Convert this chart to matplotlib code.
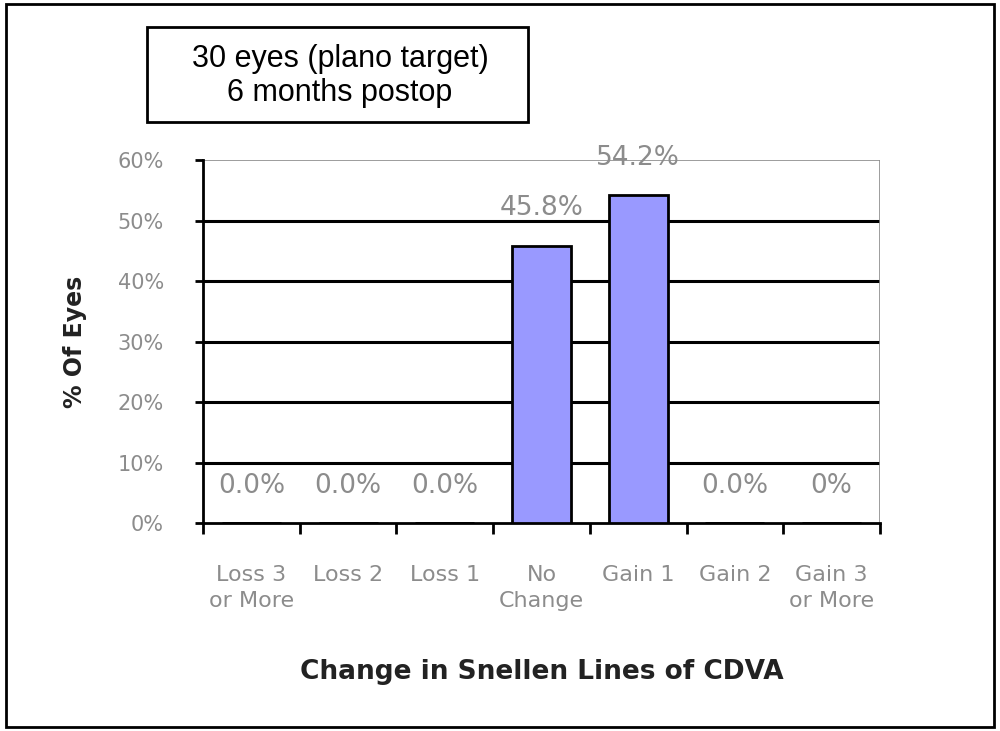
import matplotlib.pyplot as plt
from matplotlib.patches import Rectangle

# chart data
categories = ["Loss 3\nor More", "Loss 2", "Loss 1", "No\nChange",
              "Gain 1", "Gain 2", "Gain 3\nor More"]
values = [0.0, 0.0, 0.0, 45.8, 54.2, 0.0, 0.0]
value_labels = ["0.0%", "0.0%", "0.0%", "45.8%", "54.2%", "0.0%", "0%"]
y_ticks = [0, 10, 20, 30, 40, 50, 60]

grey = "#8c8c8c"
bar_color = "#9999ff"

fig = plt.figure(figsize=(10, 7.31), dpi=100)
fig.patch.set_facecolor("white")

# outer frame
fig.patches.append(Rectangle((0.006, 0.006), 0.988, 0.988, transform=fig.transFigure,
                             fill=False, edgecolor="black", linewidth=2))

ax = fig.add_axes([0.203, 0.2845, 0.677, 0.4965])
x = list(range(len(categories)))
ax.bar(x, values, width=0.61, color=bar_color, edgecolor="black", linewidth=2, zorder=3)

ax.set_xlim(-0.5, len(categories) - 0.5)
ax.set_ylim(0, 60)

# gridlines
for t in y_ticks[1:-1]:
    ax.axhline(t, color="black", linewidth=2.2, zorder=1)
ax.axhline(60, color=grey, linewidth=1.2, zorder=1)

for side in ["top", "right"]:
    ax.spines[side].set_visible(False)
ax.axvline(len(categories) - 0.5, color=grey, linewidth=1.2, zorder=1)
ax.spines["left"].set_linewidth(2)
ax.spines["bottom"].set_linewidth(2)

ax.set_yticks(y_ticks)
ax.set_yticklabels([f"{t}%" for t in y_ticks], color=grey, fontsize=15)
ax.tick_params(axis="y", length=6, width=2, pad=22)

ax.set_xticks(x)
ax.set_xticklabels(categories, color=grey, fontsize=16, linespacing=1.4)
ax.set_xticks([i - 0.5 for i in range(len(categories) + 1)], minor=True)
ax.tick_params(axis="x", which="major", length=0, pad=30)
ax.tick_params(axis="x", which="minor", length=8, width=2)

# data labels
for xi, v, lab in zip(x, values, value_labels):
    ax.text(xi, v + 6.2, lab, ha="center", va="center", color=grey, fontsize=19, zorder=4)

ax.set_xlabel("Change in Snellen Lines of CDVA", fontsize=19, fontweight="bold",
              color="#222222", va="top")
ax.set_ylabel("% Of Eyes", fontsize=17, fontweight="bold", color="#222222")
ax.xaxis.set_label_coords(0.5, -0.375)
ax.yaxis.set_label_coords(-0.172, 0.5)

# title box
fig.patches.append(Rectangle((0.147, 1 - 122 / 731), 0.381, 95 / 731, transform=fig.transFigure,
                             fill=False, edgecolor="black", linewidth=2))
fig.text(0.340, 1 - 76 / 731, "30 eyes (plano target)\n6 months postop", ha="center",
         va="center", fontsize=22, family="Liberation Sans", linespacing=1.15)

plt.savefig("out.png", dpi=100)
plt.close()
